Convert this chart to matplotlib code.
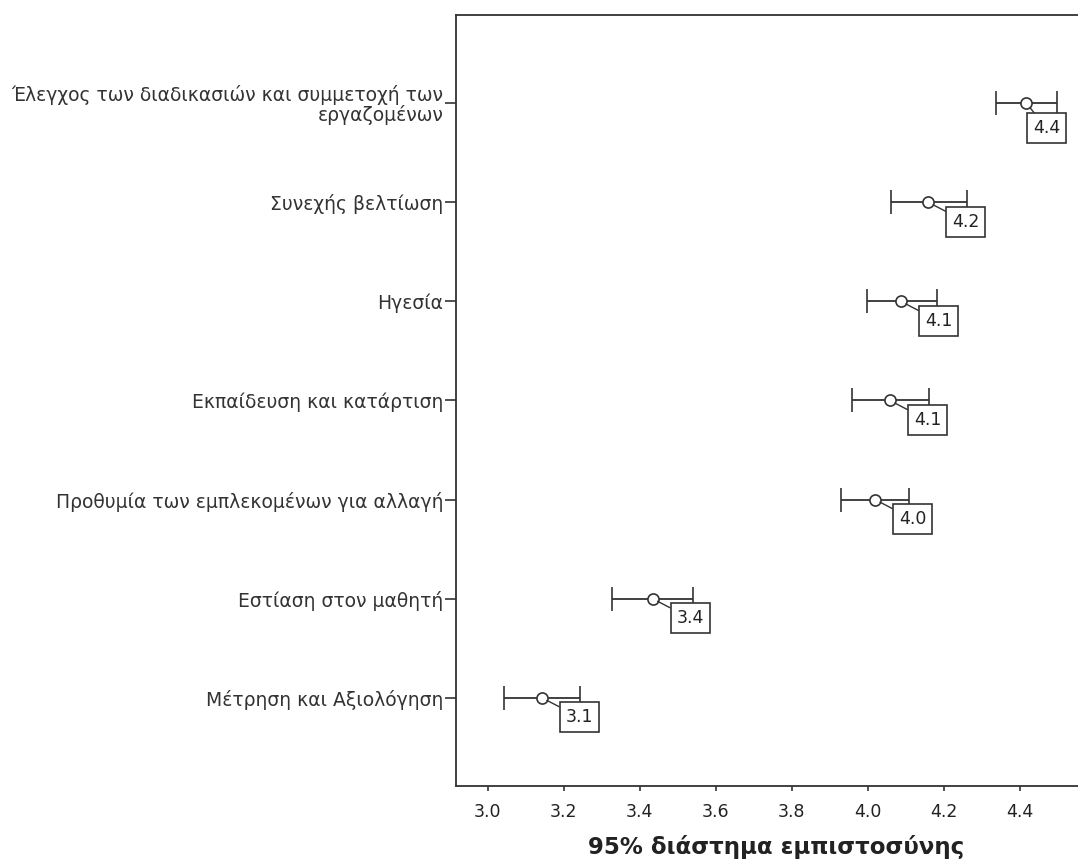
import numpy as np
import matplotlib
matplotlib.use('Agg')
from matplotlib import pyplot as plt

# values (mean and 95% CI bounds)
categories = ['Έλεγχος των διαδικασιών και συμμετοχή των\nεργαζομένων',
              'Συνεχής βελτίωση',
              'Ηγεσία',
              'Εκπαίδευση και κατάρτιση',
              'Προθυμία των εμπλεκομένων για αλλαγή',
              'Εστίαση στον μαθητή',
              'Μέτρηση και Αξιολόγηση']
means = [4.417, 4.159, 4.087, 4.058, 4.019, 3.434, 3.143]
lower = [4.336, 4.060, 3.997, 3.958, 3.929, 3.326, 3.044]
upper = [4.497, 4.261, 4.182, 4.161, 4.109, 3.541, 3.243]
labels = ['4.4', '4.2', '4.1', '4.1', '4.0', '3.4', '3.1']
xticks = [3.0, 3.2, 3.4, 3.6, 3.8, 4.0, 4.2, 4.4]

plt.rcParams['font.family'] = ['DejaVu Sans']
dark = '#333333'

fig = plt.figure(figsize=(10.78, 8.65), dpi=100)
ax = fig.add_axes([456/1078, 79/865, 640/1078, 771/865])

ypos = np.arange(len(categories))
means = np.array(means)
err = [means - np.array(lower), np.array(upper) - means]

ax.errorbar(means, ypos, xerr=err, fmt='o', mfc='white', mec=dark, mew=1.2,
            ms=8, ecolor=dark, elinewidth=1.3, capsize=8.3, capthick=1.3,
            color=dark, zorder=3)

for i in range(len(means)):
    off = (27, -14)
    if i == 0:
        off = (14.5, -18)  # pushed left, chart edge
    ax.annotate(labels[i], xy=(means[i], ypos[i]), xytext=off,
                textcoords='offset points', ha='center', va='center',
                fontsize=12.5, color='#222222', zorder=5,
                bbox=dict(boxstyle='square,pad=0.34', fc='white', ec=dark, lw=1.2),
                arrowprops=dict(arrowstyle='-', color=dark, lw=1.0,
                                shrinkA=0, shrinkB=4))

ax.set_xlim(2.917, 4.6)
ax.set_ylim(6.89, -0.89)
ax.set_xticks(xticks)
ax.set_xticklabels(['%.1f' % t for t in xticks])
ax.set_yticks(ypos)
ax.set_yticklabels(categories, fontsize=13.5, color='#222222', linespacing=1.0)

ax.tick_params(axis='x', length=3.5, width=1.2, pad=9, labelsize=12.5,
               colors=dark, labelcolor='#222222')
ax.tick_params(axis='y', length=8, width=1.2, pad=1, colors=dark)
for s in ['top', 'left', 'bottom']:
    ax.spines[s].set_linewidth(1.3)
    ax.spines[s].set_color(dark)
ax.spines['right'].set_visible(False)

ax.set_xlabel('95% διάστημα εμπιστοσύνης', fontsize=16.5, fontweight='bold',
              color='#222222', labelpad=10)

plt.savefig('out.png', dpi=100)
